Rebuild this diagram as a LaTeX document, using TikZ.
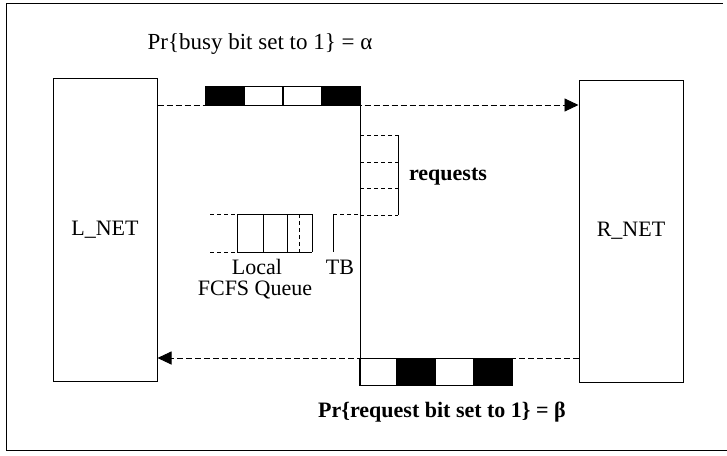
\documentclass[tikz,border=0pt]{standalone}
\usepackage{fontspec}
\setmainfont{Liberation Serif}
\usetikzlibrary{arrows.meta}
\begin{document}
\begin{tikzpicture}[x=1pt,y=-1pt, line width=0.9pt,
  netbox/.style={draw, line width=1pt, minimum width=104pt, inner sep=0pt, font=\fontsize{22}{26}\selectfont},
  lbl/.style={font=\fontsize{22}{26}\selectfont, inner sep=0pt},
  blbl/.style={font=\fontsize{22}{26}\selectfont\bfseries, inner sep=0pt},
  link/.style={dash pattern=on 6pt off 3pt, -{Triangle[length=14pt,width=13pt]}},
  cell/.style={draw, inner sep=0pt, minimum width=38.5pt, minimum height=19pt},
  bcell/.style={draw, inner sep=0pt, minimum width=38.5pt, minimum height=27pt},
  dline/.style={dash pattern=on 4pt off 3pt}]
\useasboundingbox (0,0) rectangle (727,455);
% outer frame (open on the right)
\draw (723,3) -- (6,3) -- (6,450) -- (727,450);
% networks
\node[netbox, minimum height=303pt] (lnet) at (105,229.5) {L\_NET};
\node[netbox, minimum height=302pt] (rnet) at (631,231) {R\_NET};
% top link
\coordinate (ty) at (0,105);
\draw[link] (lnet.east |- ty) -- (rnet.west |- ty);
\node[cell, fill=black] (t1) at (225,95.5) {};
\node[cell] (t2) at (263.5,95.5) {};
\node[cell] (t3) at (302.5,95.5) {};
\node[cell, fill=black] (t4) at (341,95.5) {};
% central divider
\coordinate (vtop) at (360,86);
\coordinate (vbot) at (360,385);
\draw (vtop) -- (vbot);
% bottom link
\coordinate (by) at (0,358);
\draw[link] (rnet.west |- by) -- (lnet.east |- by);
\node[bcell] (b1) at (378.5,371.5) {};
\node[bcell, fill=black] (b2) at (416,371.5) {};
\node[bcell] (b3) at (454,371.5) {};
\node[bcell, fill=black] (b4) at (493,371.5) {};
% requests queue
\draw[dline] (360,135) -- (398,135);
\draw[dline] (360,162) -- (398,162);
\draw[dline] (360,188) -- (398,188);
\draw[dline] (360,215) -- (398,215);
\draw (398,135) -- (398,215);
\node[blbl] (req) at (448,177) {requests};
% local FCFS queue
\draw[dline] (210,214) -- (237,214);
\draw[dline] (210,252) -- (237,252);
\draw (237,214) -- (312,214);
\draw (237,252) -- (312,252);
\draw (237,214) -- (237,252);
\draw (263,214) -- (263,252);
\draw (287,214) -- (287,252);
\draw[dline] (299,214) -- (299,252);
\draw (312,214) -- (312,252);
% token buffer
\draw (333,214) -- (333,252);
\draw[dline] (333,214) -- (360,214);
\node[lbl] (loc) at (257,267) {Local};
\node[lbl] (fcfs) at (255,290) {FCFS Queue};
\node[lbl] (tb) at (340,267) {TB};
% probabilities
\node[lbl, font=\fontsize{23}{27}\selectfont] (tlab) at (260,44) {Pr\{busy bit set to 1\} = α};
\node[blbl] (blab) at (442,412) {Pr\{request bit set to 1\} = β};
\end{tikzpicture}
\end{document}
